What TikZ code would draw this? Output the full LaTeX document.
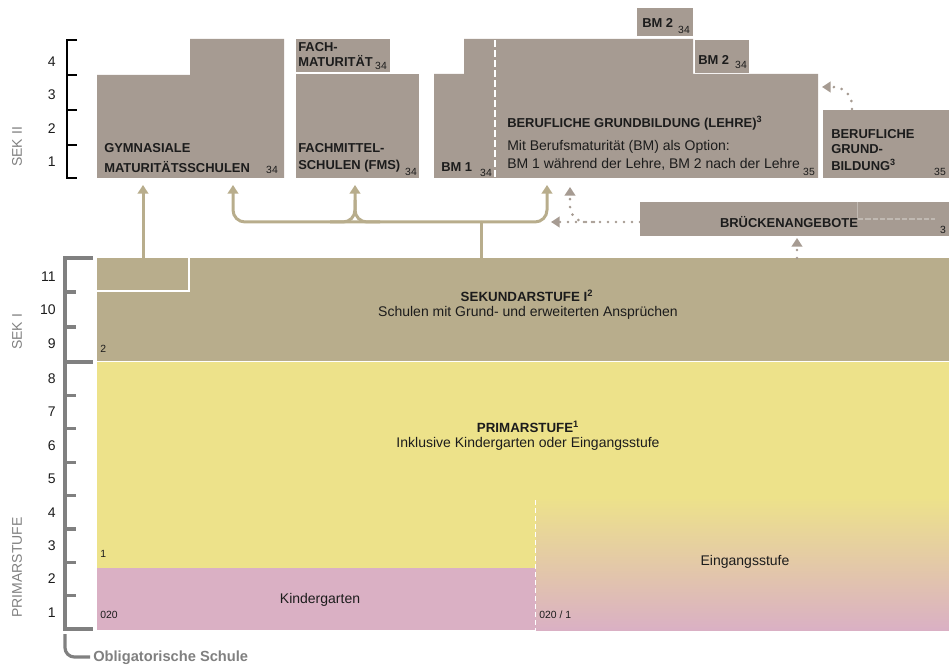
\documentclass[tikz,border=0pt]{standalone}
\usepackage{fontspec}
\setmainfont{Liberation Sans}
\usetikzlibrary{arrows.meta}
\definecolor{taupe}{RGB}{166,155,146}
\definecolor{olive}{RGB}{184,173,140}
\definecolor{yel}{RGB}{237,226,138}
\definecolor{pnk}{RGB}{218,176,196}
\definecolor{axgray}{RGB}{128,128,128}
\definecolor{txt}{RGB}{28,28,28}
\tikzset{
  lbl/.style={font=\fontsize{9.7}{11}\selectfont\bfseries, text=txt, inner sep=0, anchor=west},
  reg/.style={font=\fontsize{10.5}{12}\selectfont, text=txt, inner sep=0},
  tiny/.style={font=\fontsize{7.8}{8}\selectfont, text=txt, inner sep=0},
  axnum/.style={font=\fontsize{10.5}{12}\selectfont, text=txt, inner sep=0, anchor=east},
  axname/.style={font=\fontsize{10.5}{12}\selectfont, text=axgray, rotate=90, inner sep=0, anchor=west},
  flowline/.style={draw=olive, line width=2.25pt},
  flow/.style={flowline, -{Triangle[width=8pt,length=6.5pt]}},
  dotflow/.style={draw=taupe, line width=2.2pt, dash pattern=on 0pt off 6pt, line cap=round, -{Triangle[width=8pt,length=6.5pt]}},
  axthin/.style={draw=black, line width=0.8pt},
  axthick/.style={draw=axgray, line width=2.4pt},
}
\begin{document}
\begin{tikzpicture}[x=0.75pt,y=-0.75pt]
\useasboundingbox (0,0) rectangle (949,670);

% ---------- Primarstufe ----------
\fill[yel] (97,362) rectangle (949,630);
\shade[top color=yel, bottom color=pnk] (536,497) rectangle (949,630);
\fill[pnk] (97,568) rectangle (536,630);
\draw[white, line width=1.2pt, dash pattern=on 4pt off 2pt] (535.5,500) -- (535.5,630);
\node[lbl, anchor=center, font=\fontsize{10}{11}\selectfont\bfseries] (primT) at (528,427) {PRIMARSTUFE\textsuperscript{1}};
\node[reg] (primS) at (528,444) {Inklusive Kindergarten oder Eingangsstufe};
\node[tiny, anchor=west] (prim1) at (100,554) {1};
\node[reg] (kg) at (320,600) {Kindergarten};
\node[tiny, anchor=west] (kgn) at (100,615) {020};
\node[tiny, anchor=west] (eingn) at (539,615) {020 / 1};
\node[reg] (eing) at (745,562) {Eingangsstufe};

% ---------- Sekundarstufe I ----------
\fill[olive] (97,258) rectangle (949,361);
\draw[white, line width=1.5pt] (97,291) -- (189,291) -- (189,258);
\node[lbl, anchor=center, font=\fontsize{10}{11}\selectfont\bfseries] (sekT) at (527,296) {SEKUNDARSTUFE I\textsuperscript{2}};
\node[reg] (sekS) at (528,313) {Schulen mit Grund- und erweiterten Ansprüchen};
\node[tiny, anchor=west] (sek2) at (100,349) {2};

% ---------- Sek II boxes ----------
\fill[taupe] (97,75) -- (190,75) -- (190,39) -- (284,39) -- (284,178) -- (97,178) -- cycle;
\node[lbl] (gym1) at (104,148) {GYMNASIALE};
\node[lbl] (gym2) at (104,167) {MATURITÄTSSCHULEN};
\node[tiny] (gymn) at (272,170) {34};

\fill[taupe] (296,39) rectangle (390,72);
\node[lbl] (fm1) at (298,47) {FACH-};
\node[lbl] (fm2) at (298,61) {MATURITÄT};
\node[tiny] (fmn) at (381,66) {34};

\fill[taupe] (296,74) rectangle (419,178);
\node[lbl] (fms1) at (298,148) {FACHMITTEL-};
\node[lbl] (fms2) at (298,166) {SCHULEN (FMS)};
\node[tiny] (fmsn) at (411,172) {34};

\fill[taupe] (434,74) -- (464,74) -- (464,39) -- (693,39) -- (693,74) -- (818,74) -- (818,178) -- (434,178) -- cycle;
\fill[taupe] (694.5,40) rectangle (749,73);
\draw[white, line width=1.2pt, dash pattern=on 5pt off 2.5pt] (495,40) -- (495,178);
\node[lbl] (bm1) at (441,167) {BM 1};
\node[tiny] (bm1n) at (486,173) {34};
\node[lbl] (bgb1) at (507,123) {BERUFLICHE GRUNDBILDUNG (LEHRE)\textsuperscript{3}};
\node[reg, anchor=west] (bgb2) at (507,147) {Mit Berufsmaturität (BM) als Option:};
\node[reg, anchor=west] (bgb3) at (507,164) {BM 1 während der Lehre, BM 2 nach der Lehre};
\node[tiny] (bgbn) at (809,172) {35};

\fill[taupe] (637,8) rectangle (693,36);
\node[lbl] (bm2a) at (642,23) {BM 2};
\node[tiny] (bm2an) at (684,30) {34};
\node[lbl] (bm2b) at (698,60) {BM 2};
\node[tiny] (bm2bn) at (741,65) {34};

\fill[taupe] (823,110) rectangle (949,178);
\node[lbl] (bgr1) at (831,134) {BERUFLICHE};
\node[lbl] (bgr2) at (831,149) {GRUND-};
\node[lbl] (bgr3) at (831,165) {BILDUNG\textsuperscript{3}};
\node[tiny] (bgrn) at (940,172) {35};

\fill[taupe] (640,202) rectangle (949,236);
\draw[white, opacity=0.3, line width=0.6pt] (857,202) -- (857,218);
\draw[white, opacity=0.3, line width=1.2pt, dash pattern=on 4pt off 1.5pt] (858,219) -- (935,219);
\node[lbl, anchor=center] (bru) at (789,222) {BRÜCKENANGEBOTE};
\node[tiny] (brun) at (943,230) {3};

% ---------- connectors ----------
\coordinate (sekA) at (143,258);
\coordinate (gymA) at (143,185);
\coordinate (gymB) at (233,185);
\coordinate (fmsA) at (355,185);
\coordinate (bgbA) at (547,185);
\coordinate (sekB) at (481,258);
\coordinate (jn) at (481,222);
\draw[flow] (sekA) -- (gymA);
\draw[flowline] (sekB) -- (jn);
\draw[flow, rounded corners=9pt] (jn) -- (233,222) -- (gymB);
\draw[flow, rounded corners=9pt] (jn) -- (547,222) -- (bgbA);
\draw[flow, rounded corners=9pt] (330,222) -- (355,222) -- (fmsA);
\draw[flowline, rounded corners=9pt] (380,222) -- (355,222) -- (355,200);

\coordinate (bruW) at (640,222);
\coordinate (bruTip) at (551,222);
\coordinate (bgbB) at (570,187);
\coordinate (sekC) at (797,258);
\coordinate (bruS) at (797,238);
\coordinate (bgrN) at (852,109);
\coordinate (bgbE) at (822,87);
\draw[dotflow] (bruW) -- (bruTip);
\draw[dotflow, rounded corners=12pt] (594,222) -- (570,222) -- (bgbB);
\draw[dotflow] (sekC) -- (bruS);
\draw[dotflow, rounded corners=14pt] (bgrN) -- (852,87) -- (bgbE);

% ---------- axes ----------
\draw[axthin] (77,40) -- (67,40) -- (67,178) -- (77,178);
\foreach \y in {75,110,145} \draw[axthin] (67,\y) -- (77,\y);
\node[axnum] (s4) at (56,62) {4};
\node[axnum] (s3) at (56,95) {3};
\node[axnum] (s2) at (56,129) {2};
\node[axnum] (s1) at (56,161.5) {1};
\node[axname] (sek2name) at (17,167) {SEK II};

\draw[axthick] (93,258) -- (65,258) -- (65,629) -- (93,629);
\draw[axthick] (65,362) -- (93,362);
\foreach \y in {292,327} \draw[axthick] (65,\y) -- (76,\y);
\foreach \k in {1,...,7} \draw[axthick] (65,362+33.4*\k) -- (76,362+33.4*\k);
\node[axnum] (k11) at (56,277) {11};
\node[axnum] (k10) at (56,310) {10};
\node[axnum] (k9) at (56,344) {9};
\foreach \n [count=\i from 0] in {8,7,6,5,4,3,2,1}
  \node[axnum] (p\n) at (56,378.7+33.4*\i) {\n};
\node[axname] (sek1name) at (17,350) {SEK I};
\node[axname] (primname) at (17,618) {PRIMARSTUFE};

\draw[axthick, rounded corners=7pt] (65,634) -- (65,657) -- (90,657);
\node[lbl, text=axgray, font=\fontsize{11}{12}\selectfont\bfseries] (obl) at (93,658) {Obligatorische Schule};
\end{tikzpicture}
\end{document}
